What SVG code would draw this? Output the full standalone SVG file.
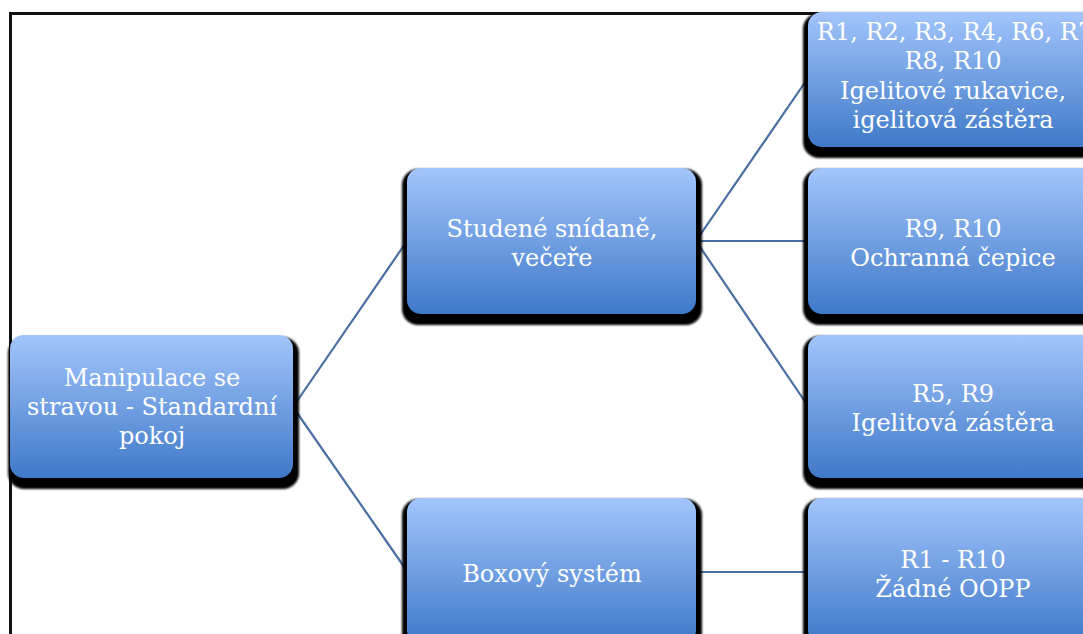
<svg xmlns="http://www.w3.org/2000/svg" width="1083" height="634" viewBox="0 0 1083 634">
  <defs>
    <linearGradient id="boxFill" x1="0" y1="0" x2="0" y2="1">
      <stop offset="0" stop-color="#a2c5fb"/>
      <stop offset="1" stop-color="#3f79c9"/>
    </linearGradient>
    <filter id="soft" x="-5%" y="-5%" width="110%" height="115%">
      <feGaussianBlur stdDeviation="1.2"/>
    </filter>
    <style>
      .shadow { fill: #000; filter: url(#soft); }
      .box { fill: url(#boxFill); }
      .label { font-family: "DejaVu Serif", "Liberation Serif", serif; font-size: 24px; fill: #ffffff; text-anchor: middle; }
      .link { stroke: #4a6fa3; stroke-width: 2.2; fill: none; }
    </style>
  </defs>

  <rect width="1083" height="634" fill="#ffffff"/>

  <!-- outer frame -->
  <rect x="10.5" y="13.5" width="1100" height="660" fill="none" stroke="#111" stroke-width="3"/>

  <!-- connectors -->
  <g id="connectors">
    <line class="link" x1="293" y1="407" x2="407" y2="241"/>
    <line class="link" x1="293" y1="407" x2="407" y2="571"/>
    <line class="link" x1="696" y1="241" x2="808" y2="78"/>
    <line class="link" x1="696" y1="241" x2="808" y2="241"/>
    <line class="link" x1="696" y1="241" x2="808" y2="406"/>
    <line class="link" x1="696" y1="572" x2="808" y2="572"/>
  </g>

  <g id="root">
    <rect class="shadow" x="8" y="337" width="291" height="152" rx="16"/>
    <rect class="box" x="10" y="335" width="283" height="143" rx="14"/>
    <text class="label" x="152" y="386">Manipulace se</text>
    <text class="label" x="152" y="415">stravou - Standardní</text>
    <text class="label" x="152" y="444">pokoj</text>
  </g>

  <g id="cold-meals">
    <rect class="shadow" x="402" y="169" width="300" height="156" rx="16"/>
    <rect class="box" x="407" y="168" width="289" height="146" rx="14"/>
    <text class="label" x="552" y="237">Studené snídaně,</text>
    <text class="label" x="552" y="266">večeře</text>
  </g>

  <g id="box-system">
    <rect class="shadow" x="402" y="499" width="300" height="156" rx="16"/>
    <rect class="box" x="407" y="498" width="289" height="146" rx="14"/>
    <text class="label" x="552" y="582">Boxový systém</text>
  </g>

  <g id="gloves-apron">
    <rect class="shadow" x="803" y="13" width="300" height="145" rx="16"/>
    <rect class="box" x="808" y="12" width="289" height="135" rx="14"/>
    <text class="label" x="955" y="40">R1, R2, R3, R4, R6, R7</text>
    <text class="label" x="953" y="69">R8, R10</text>
    <text class="label" x="953" y="99">Igelitové rukavice,</text>
    <text class="label" x="953" y="128">igelitová zástěra</text>
  </g>

  <g id="cap">
    <rect class="shadow" x="803" y="169" width="300" height="156" rx="16"/>
    <rect class="box" x="808" y="168" width="289" height="146" rx="14"/>
    <text class="label" x="953" y="237">R9, R10</text>
    <text class="label" x="953" y="266">Ochranná čepice</text>
  </g>

  <g id="apron">
    <rect class="shadow" x="803" y="336" width="300" height="153" rx="16"/>
    <rect class="box" x="808" y="335" width="289" height="143" rx="14"/>
    <text class="label" x="953" y="402">R5, R9</text>
    <text class="label" x="953" y="431">Igelitová zástěra</text>
  </g>

  <g id="no-ppe">
    <rect class="shadow" x="803" y="499" width="300" height="156" rx="16"/>
    <rect class="box" x="808" y="498" width="289" height="146" rx="14"/>
    <text class="label" x="953" y="568">R1 - R10</text>
    <text class="label" x="953" y="597">Žádné OOPP</text>
  </g>
</svg>
